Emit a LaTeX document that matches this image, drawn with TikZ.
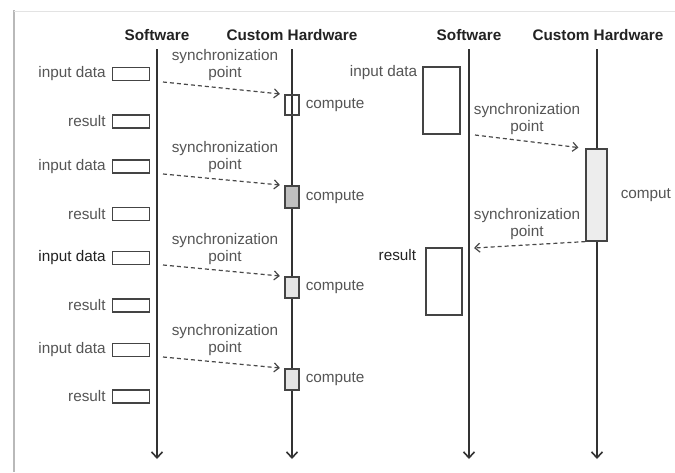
\documentclass[tikz,border=0pt]{standalone}
\usepackage{fontspec}
\setmainfont{Liberation Sans}
\usetikzlibrary{arrows.meta,calc}
\definecolor{linegray}{HTML}{333333}
\definecolor{textgray}{HTML}{555555}
\definecolor{headgray}{HTML}{222222}
\definecolor{boxgray}{HTML}{444444}
\definecolor{dashgray}{HTML}{484848}
\begin{document}
\begin{tikzpicture}[x=1pt,y=-1pt,
  txt/.style={font=\fontsize{15.3}{16.5}\selectfont, inner sep=0pt},
  head/.style={txt, font=\fontsize{15.3}{16.5}\selectfont\bfseries, text=headgray},
  lbl/.style={txt, text=textgray},
  synclbl/.style={txt, text=textgray, align=center},
  timeline/.style={draw=linegray, line width=1.7pt,
    -{Straight Barb[length=6pt,width=11pt,line width=1.6pt]}},
  syncarrow/.style={draw=dashgray, line width=1.2pt, dash pattern=on 4pt off 3pt,
    -{Straight Barb[length=5pt,width=9pt,line width=1.2pt]}},
  databox/.style={draw=boxgray, line width=1.3pt, fill=white, inner sep=0pt,
    minimum width=37pt, minimum height=13pt},
  tallbox/.style={draw=boxgray, line width=1.3pt, inner sep=0pt,
    minimum width=37pt, minimum height=67pt},
  hwbox/.style={draw=boxgray, line width=1.2pt, inner sep=0pt,
    minimum width=14pt, minimum height=21pt}
]
\useasboundingbox (0,0) rectangle (675,472);
\fill[white] (0,0) rectangle (675,472);

% page frame
\draw[gray!55, line width=2pt] (14,10) -- (14,472);
\draw[gray!22, line width=1pt] (14,11) -- (675,11);

% ---------- left diagram: fine-grained exchange ----------
\node[head] (swA) at (157,35) {Software};
\node[head] (hwA) at (292,35) {Custom Hardware};
\coordinate (swAtop) at (157,49);  \coordinate (swAbot) at (157,459);
\coordinate (hwAtop) at (292,49);  \coordinate (hwAbot) at (292,459);
\draw[timeline] (swAtop) -- (swAbot);
\draw[timeline] (hwAtop) -- (hwAbot);

% data boxes on the software side
\node[databox] (in1) at (131,74) {};
\node[databox] (re1) at (131,121.5) {};
\node[databox] (in2) at (131,166.5) {};
\node[databox] (re2) at (131,214) {};
\node[databox] (in3) at (131,258) {};
\node[databox] (re3) at (131,305.5) {};
\node[databox] (in4) at (131,350) {};
\node[databox] (re4) at (131,396.5) {};
\foreach \b/\t in {in1/input data, re1/result, in2/input data, re2/result,
                   re3/result, in4/input data, re4/result}
  \node[lbl, anchor=east] at ($(\b.west)+(-6,0)$) {\t};
\node[lbl, anchor=east, text=headgray] at ($(in3.west)+(-6,0)$) {input data};

% compute boxes on the hardware side
\node[hwbox, minimum height=20pt] (c1) at (292,105) {};
\node[hwbox, minimum height=22pt, fill=gray!50] (c2) at (292,197) {};
\node[hwbox, fill=gray!20] (c3) at (292,287.5) {};
\node[hwbox, fill=gray!20] (c4) at (292,379.5) {};
\foreach \c in {c1,c2,c3,c4}
  \node[lbl, anchor=west] at ($(\c.east)+(6,0)$) {compute};

% synchronization points
\node[synclbl] (sy1) at (225,65) {synchronization\\point};
\node[synclbl] (sy2) at (225,157) {synchronization\\point};
\node[synclbl] (sy3) at (225,249) {synchronization\\point};
\node[synclbl] (sy4) at (225,340) {synchronization\\point};
\coordinate (s1) at (163,82);
\coordinate (s2) at (163,174);
\coordinate (s3) at (163,265);
\coordinate (s4) at (163,357);
\draw[syncarrow, shorten >=4.5pt] (s1) -- (c1.north west);
\draw[syncarrow, shorten >=4.5pt] (s2) -- (c2.north west);
\draw[syncarrow, shorten >=4.5pt] (s3) -- (c3.north west);
\draw[syncarrow, shorten >=4.5pt] (s4) -- (c4.north west);

% ---------- right diagram: coarse-grained exchange ----------
\node[head] (swB) at (469,35) {Software};
\node[head] (hwB) at (598,35) {Custom Hardware};
\coordinate (swBtop) at (469,49);  \coordinate (swBbot) at (469,459);
\coordinate (hwBtop) at (597,49);  \coordinate (hwBbot) at (597,459);
\draw[timeline] (swBtop) -- (swBbot);
\draw[timeline] (hwBtop) -- (hwBbot);

\node[tallbox] (rin) at (441.5,100.5) {};
\node[lbl, anchor=east] at ($(rin.north west)+(-5,6)$) {input data};
\node[tallbox, minimum width=36pt] (rres) at (444,281.5) {};
\node[lbl, anchor=east, text=headgray] at ($(rres.north west)+(-9,8)$) {result};

\node[draw=boxgray, line width=1.2pt, fill=gray!14, inner sep=0pt,
  minimum width=21pt, minimum height=92pt] (rc) at (596.5,195) {};
\node[lbl, anchor=west] at ($(rc.east)+(13,0)$) {comput};

\node[synclbl] (sy5) at (527,119) {synchronization\\point};
\node[synclbl] (sy6) at (527,224) {synchronization\\point};
\coordinate (t1) at (475,135);
\coordinate (t2) at (474,248);
\draw[syncarrow, shorten >=7pt] (t1) -- (rc.north west);
\draw[syncarrow] (rc.south west) -- (t2);
\end{tikzpicture}
\end{document}
